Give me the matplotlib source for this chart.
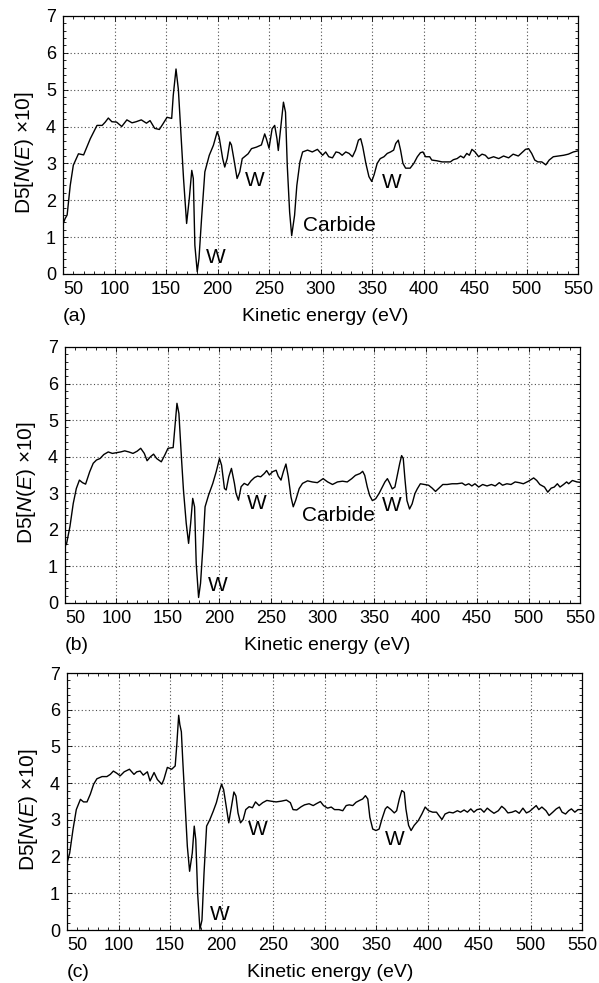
"""
AES derivative spectra D5[N(E) x10] vs kinetic energy, three panels (a)(b)(c)
"""

import matplotlib
matplotlib.use('Agg')
import matplotlib.pyplot as plt
from matplotlib.ticker import MultipleLocator

plt.rcParams['font.family'] = ['Liberation Sans', 'DejaVu Sans']
plt.rcParams['mathtext.fontset'] = 'custom'
plt.rcParams['mathtext.rm'] = 'Liberation Sans'
plt.rcParams['mathtext.it'] = 'Liberation Sans:italic'

# ---- data ----
energy_a = [50, 52, 54, 57, 60, 65, 70, 76.5, 83, 88, 91, 94, 97.4, 102, 107, 112, 117, 121, 126, 131,
            134.5, 139, 143.5, 147, 151, 155.5, 157, 159.7, 162, 164, 167, 170, 172.6, 175, 176.5, 178,
            180.3, 182, 184.5, 187.7, 192, 196, 199.7, 201.6, 205, 207, 209.4, 212, 213.5, 215.8, 219,
            221.6, 224, 229.7, 233, 237.7, 242.6, 245.8, 247.4, 250, 253, 255.5, 257.7, 259, 262, 264,
            266, 267.7, 270, 272, 274.8, 277, 280, 282.6, 287.4, 292, 297, 302, 305, 308, 311.6, 315,
            318, 321, 324.5, 327.7, 331, 334, 336.8, 339, 341, 344, 347, 349.7, 352, 355, 358, 361.6,
            364.8, 368, 371, 373, 375.5, 377.7, 380, 382.6, 387, 390.6, 394, 397, 399.4, 402, 406, 408,
            413, 418, 423, 426, 429, 432.6, 436, 439, 442, 444.5, 447, 450, 453.5, 456.8, 460, 463, 468,
            473, 477.7, 482.6, 487, 492, 495.5, 499, 502, 505, 508, 511, 514.8, 518.7, 522, 526, 531,
            536, 540.6, 545.5, 550]
signal_a = [1.35, 1.5, 1.6, 2.4, 2.95, 3.26, 3.23, 3.67, 4.03, 4.03, 4.12, 4.23, 4.13, 4.12, 4.0, 4.18,
            4.1, 4.13, 4.18, 4.09, 4.16, 3.95, 3.92, 4.07, 4.25, 4.22, 4.84, 5.56, 5.0, 4.03, 2.59, 1.37,
            2.05, 2.81, 2.59, 0.78, 0.06, 0.42, 1.5, 2.77, 3.22, 3.49, 3.86, 3.71, 3.13, 2.9, 3.13, 3.58,
            3.5, 3.13, 2.59, 2.77, 3.13, 3.26, 3.4, 3.44, 3.5, 3.8, 3.67, 3.41, 3.94, 4.03, 3.67, 3.35,
            4.12, 4.66, 4.39, 2.95, 1.68, 1.04, 1.59, 2.4, 3.04, 3.31, 3.36, 3.31, 3.38, 3.22, 3.31, 3.18,
            3.15, 3.31, 3.29, 3.22, 3.31, 3.27, 3.18, 3.36, 3.63, 3.67, 3.45, 3.0, 2.64, 2.51, 2.69, 3.0,
            3.13, 3.18, 3.27, 3.31, 3.36, 3.54, 3.63, 3.36, 3.0, 2.87, 2.87, 3.0, 3.18, 3.29, 3.31, 3.18,
            3.18, 3.09, 3.07, 3.04, 3.04, 3.04, 3.1, 3.13, 3.2, 3.15, 3.27, 3.22, 3.38, 3.31, 3.18, 3.25,
            3.22, 3.13, 3.18, 3.13, 3.2, 3.15, 3.25, 3.2, 3.29, 3.38, 3.4, 3.27, 3.09, 3.04, 3.04, 2.96,
            3.09, 3.18, 3.2, 3.22, 3.25, 3.31, 3.34]

energy_b = [50, 51.6, 54.8, 58, 61, 64, 67, 70, 74, 77.4, 80.6, 84, 87.7, 92, 96, 100, 104, 108, 112,
            116, 120, 123.5, 127, 129.7, 133, 136, 139, 143.5, 146.8, 150, 155, 156.5, 158.7, 160.6, 163,
            165, 167.7, 170, 172, 174, 175.8, 177.4, 179.7, 181.6, 183.9, 186, 189.4, 193.5, 196.8, 200,
            202, 204.8, 206.5, 209, 211.6, 214.5, 216, 218.4, 221, 224, 227.4, 230.6, 234, 237, 240,
            243.5, 245.8, 248.4, 251.6, 255, 257, 259.7, 262, 264.5, 266.8, 269.4, 271.6, 274, 277.4,
            280.6, 285.5, 290, 295, 300.6, 305, 309.7, 314.5, 319.4, 324, 328.4, 332, 336.5, 339, 341,
            343.5, 345.8, 348.4, 351.6, 354.8, 358, 360.6, 363, 365, 367.7, 370.3, 372.6, 375, 376.8,
            378.4, 380, 382, 384.5, 387, 389.7, 392, 395, 399, 403, 406.5, 409.7, 413, 416.8, 421, 425.8,
            430.6, 435.5, 438.7, 442, 445, 448, 451.6, 455.5, 459.7, 464, 467.7, 471.6, 474.8, 479, 483,
            487, 491, 495, 500, 505, 508, 511, 515.5, 518.7, 522, 525, 528, 530.6, 534, 537, 539, 542.6,
            547, 550]
signal_b = [1.55, 1.63, 2.09, 2.72, 3.13, 3.36, 3.29, 3.25, 3.59, 3.82, 3.91, 3.95, 4.06, 4.13, 4.09,
            4.11, 4.13, 4.16, 4.13, 4.09, 4.15, 4.23, 4.09, 3.89, 4.0, 4.07, 3.95, 3.86, 4.04, 4.23, 4.25,
            4.73, 5.46, 5.18, 4.0, 3.09, 2.18, 1.63, 2.18, 2.86, 2.63, 1.08, 0.15, 0.54, 1.54, 2.63, 2.95,
            3.27, 3.59, 3.95, 3.77, 3.13, 3.09, 3.45, 3.68, 3.27, 3.0, 2.81, 3.18, 3.27, 3.22, 3.34, 3.43,
            3.47, 3.45, 3.54, 3.62, 3.5, 3.59, 3.63, 3.47, 3.36, 3.59, 3.8, 3.45, 2.9, 2.63, 2.81, 3.13,
            3.27, 3.34, 3.31, 3.29, 3.4, 3.31, 3.24, 3.31, 3.33, 3.31, 3.4, 3.49, 3.54, 3.6, 3.49, 3.17,
            2.94, 2.8, 2.85, 2.99, 3.17, 3.31, 3.4, 3.29, 3.12, 3.17, 3.49, 3.82, 4.03, 3.95, 3.4, 2.8,
            2.57, 2.71, 2.99, 3.12, 3.26, 3.24, 3.22, 3.14, 3.05, 3.14, 3.24, 3.24, 3.26, 3.26, 3.28, 3.22,
            3.26, 3.2, 3.26, 3.17, 3.24, 3.2, 3.24, 3.2, 3.29, 3.22, 3.26, 3.24, 3.31, 3.29, 3.26, 3.33,
            3.42, 3.35, 3.24, 3.17, 3.03, 3.14, 3.17, 3.26, 3.17, 3.24, 3.31, 3.26, 3.35, 3.31, 3.3]

energy_c = [50, 52.6, 55.8, 59, 63, 66, 69.4, 72.6, 75.8, 79, 84, 88.7, 92, 95, 98.4, 101.6, 105.5,
            110.6, 115, 117.7, 121, 124, 128, 130.6, 134.5, 137.7, 142, 144, 147.4, 151.6, 155, 156.5,
            158.4, 159.5, 161, 162.3, 164.5, 166.8, 169, 171.6, 173.5, 175, 176.8, 179, 181, 183, 185.5,
            188.7, 192, 195, 197.7, 200, 202, 205, 207, 209.7, 212, 214, 216, 218.4, 221, 223.5, 226.8,
            230, 233, 236.5, 240, 244, 248, 253, 258, 263, 266.8, 269.4, 273, 277.4, 280.6, 285, 289, 292,
            296, 299, 303, 306.5, 309.7, 314, 317.7, 321, 324, 327.4, 330.6, 334, 337, 339.7, 342, 344,
            346.8, 350, 353, 355.8, 359, 361, 364.5, 367.7, 370, 372.6, 375, 377.4, 379, 381.6, 384, 387,
            391, 394.5, 397.7, 401, 405, 408.7, 411, 414, 417, 421, 424.8, 429, 432, 435.5, 438.7, 442,
            445, 448, 451.6, 454.8, 458, 461, 464.5, 468.7, 472, 475, 478, 482, 485.5, 489, 492.6, 496,
            499, 502.6, 505.5, 508, 511, 515, 518, 521.6, 525, 528, 530.6, 534, 537, 539.7, 543, 546, 550]
signal_c = [1.82, 2.1, 2.74, 3.28, 3.56, 3.49, 3.49, 3.7, 3.97, 4.12, 4.18, 4.18, 4.24, 4.33, 4.27, 4.2,
            4.31, 4.38, 4.24, 4.31, 4.33, 4.22, 4.31, 4.06, 4.29, 4.1, 3.97, 4.1, 4.43, 4.38, 4.47, 5.02,
            5.85, 5.6, 5.4, 4.65, 3.47, 2.28, 1.6, 2.1, 2.83, 2.46, 1.0, 0.02, 0.27, 1.55, 2.83, 3.01, 3.24,
            3.47, 3.76, 3.97, 3.83, 3.28, 2.92, 3.38, 3.76, 3.65, 3.19, 2.92, 3.01, 3.28, 3.36, 3.33, 3.49,
            3.39, 3.47, 3.53, 3.51, 3.49, 3.51, 3.54, 3.47, 3.28, 3.27, 3.36, 3.41, 3.44, 3.39, 3.44, 3.5,
            3.39, 3.32, 3.35, 3.28, 3.28, 3.25, 3.39, 3.41, 3.39, 3.48, 3.53, 3.57, 3.66, 3.57, 3.07, 2.75,
            2.71, 2.75, 3.03, 3.3, 3.36, 3.28, 3.19, 3.25, 3.57, 3.8, 3.75, 3.3, 2.85, 2.71, 2.85, 2.98,
            3.16, 3.35, 3.25, 3.21, 3.21, 3.12, 3.01, 3.16, 3.21, 3.19, 3.25, 3.21, 3.27, 3.21, 3.3, 3.21,
            3.28, 3.3, 3.21, 3.32, 3.25, 3.18, 3.25, 3.37, 3.3, 3.19, 3.21, 3.25, 3.18, 3.32, 3.19, 3.23,
            3.32, 3.39, 3.28, 3.35, 3.25, 3.12, 3.21, 3.3, 3.35, 3.21, 3.16, 3.25, 3.3, 3.21, 3.28, 3.28]

# annotations per panel: (text, energy, value)
notes_a = [('W', 189, 0.45), ('W', 226.5, 2.53), ('Carbide', 283, 1.32), ('W', 359.5, 2.47)]
notes_b = [('W', 188.5, 0.49), ('W', 226.5, 2.72), ('Carbide', 280, 2.4), ('W', 357.5, 2.66)]
notes_c = [('W', 188.5, 0.42), ('W', 225.5, 2.74), ('W', 358.5, 2.47)]

x_ticks = [50, 100, 150, 200, 250, 300, 350, 400, 450, 500, 550]
y_ticks = [0, 1, 2, 3, 4, 5, 6, 7]

panels = [
    ('(a)', energy_a, signal_a, notes_a, [0.1052, 0.7213, 0.8598, 0.2625]),
    ('(b)', energy_b, signal_b, notes_b, [0.1085, 0.3866, 0.8598, 0.2604]),
    ('(c)', energy_c, signal_c, notes_c, [0.1119, 0.0539, 0.8598, 0.2614]),
]

fig = plt.figure(figsize=(5.99, 9.83), dpi=100)

for tag, energy, signal, notes, rect in panels:
    ax = fig.add_axes(rect)
    ax.plot(energy, signal, color='black', linewidth=1.0)
    ax.set_xlim(50, 550)
    ax.set_ylim(0, 7)
    ax.set_xticks(x_ticks)
    ax.set_yticks(y_ticks)
    ax.xaxis.set_minor_locator(MultipleLocator(10))
    ax.yaxis.set_minor_locator(MultipleLocator(0.2))
    ax.tick_params(which='both', direction='in', top=True, right=True, width=0.6, color='black')
    ax.tick_params(which='major', length=3.5, labelsize=13, pad=5)
    ax.tick_params(which='minor', length=2)
    ax.grid(True, which='major', linestyle=(0, (1, 2.2)), color='0.3', linewidth=0.8)
    for sp in ax.spines.values():
        sp.set_linewidth(0.9)
        sp.set_color('black')
    ax.get_xticklabels()[0].set_horizontalalignment('left')

    ax.set_xlabel('Kinetic energy (eV)', fontsize=14)
    ax.xaxis.set_label_coords(0.51, -0.165)
    ax.xaxis.label.set_verticalalignment('center')
    ax.set_ylabel(r'D5[$\mathit{N}$($\mathit{E}$) ×10]', fontsize=15)
    ax.yaxis.set_label_coords(-0.075, 0.47)
    ax.yaxis.label.set_verticalalignment('center')
    ax.yaxis.label.set_rotation_mode('default')

    ax.text(0.0, -0.165, tag, transform=ax.transAxes, fontsize=14, ha='left', va='center')

    for label, ex, vy in notes:
        ax.text(ex, vy, label, fontsize=15, ha='left', va='center')

fig.savefig('out.png', dpi=100)
